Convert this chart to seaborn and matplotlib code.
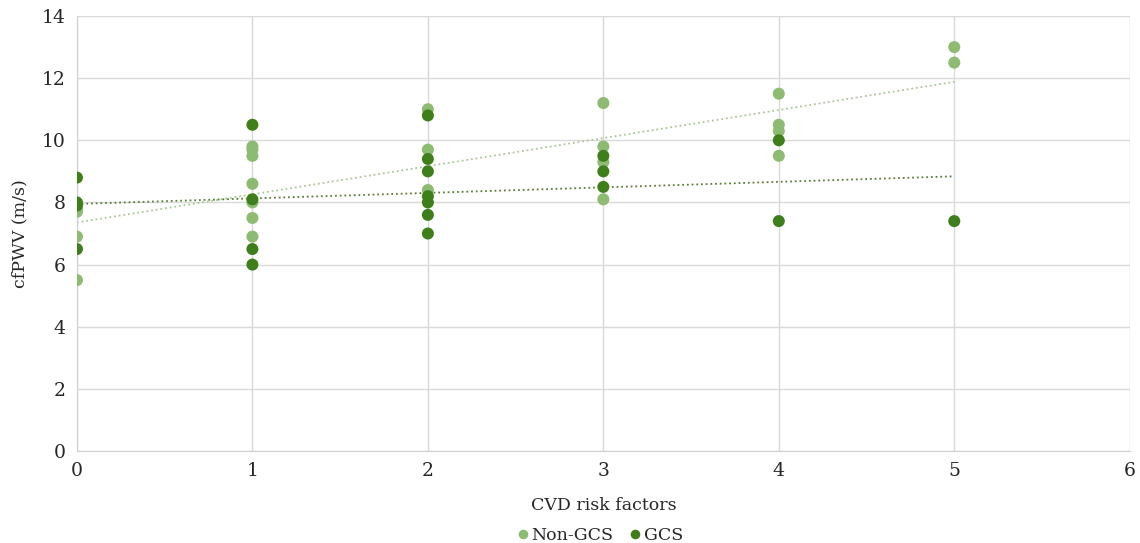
import matplotlib
matplotlib.use("Agg")
import matplotlib.pyplot as plt
import seaborn as sns
import pandas as pd

# values
non_gcs_x = [0, 0, 0, 0,
             1, 1, 1, 1, 1, 1, 1,
             2, 2, 2,
             3, 3, 3, 3,
             4, 4, 4, 4,
             5, 5]
non_gcs_y = [7.8, 7.7, 6.9, 5.5,
             9.8, 9.7, 9.5, 8.6, 8.0, 7.5, 6.9,
             11.0, 9.7, 8.4,
             11.2, 9.8, 9.3, 8.1,
             11.5, 10.5, 10.3, 9.5,
             13.0, 12.5]

gcs_x = [0, 0, 0, 0,
         1, 1, 1, 1,
         2, 2, 2, 2, 2, 2, 2,
         3, 3, 3,
         4, 4,
         5]
gcs_y = [8.8, 8.0, 7.9, 6.5,
         10.5, 8.1, 6.5, 6.0,
         10.8, 9.4, 9.0, 8.2, 8.0, 7.6, 7.0,
         9.5, 9.0, 8.5,
         10.0, 7.4,
         7.4]

groups = ["Non-GCS", "GCS"]
colors = {"Non-GCS": "#8dbb72", "GCS": "#3f7f1b"}
trend_colors = {"Non-GCS": "#a8c89a", "GCS": "#5a7f3a"}

df = pd.DataFrame({
    "risk": non_gcs_x + gcs_x,
    "cfpwv": non_gcs_y + gcs_y,
    "group": ["Non-GCS"] * len(non_gcs_x) + ["GCS"] * len(gcs_x),
})

sns.set_style("white")
plt.rcParams["font.family"] = ["DejaVu Serif"]

fig = plt.figure(figsize=(11.4, 5.43), dpi=100)
ax = fig.add_axes([0.0675, 0.1694, 0.9235, 0.8011])

sns.scatterplot(data=df, x="risk", y="cfpwv", hue="group", hue_order=groups,
                palette=colors, s=75, linewidth=0, ax=ax, zorder=3)

# linear trend lines, like excel's trendline
for g in groups:
    sub = df[df["group"] == g]
    sns.regplot(data=sub, x="risk", y="cfpwv", scatter=False, ci=None,
                truncate=True, ax=ax,
                line_kws={"color": trend_colors[g], "linewidth": 1.3,
                          "linestyle": (0, (1, 1.6)), "zorder": 2})

ax.set_xlim(0, 6)
ax.set_ylim(0, 14)
ax.set_xticks(range(0, 7))
ax.set_yticks(range(0, 15, 2))
ax.grid(True, color="#d9d9d9", linewidth=1)
ax.set_axisbelow(True)
for side in ["top", "right"]:
    ax.spines[side].set_visible(False)
for side in ["left", "bottom"]:
    ax.spines[side].set_color("#d0d0d0")
ax.tick_params(axis="both", length=0, labelsize=13.5, pad=8)

ax.set_xlabel("CVD risk factors", fontsize=12.5, labelpad=12)
ax.set_ylabel("cfPWV (m/s)", fontsize=12.5, labelpad=10)

handles, labels = ax.get_legend_handles_labels()
ax.get_legend().remove()
fig.legend(handles[:2], labels[:2], loc="center",
           bbox_to_anchor=(0.526, 0.014), ncol=2, frameon=False,
           fontsize=12.5, handlelength=0.7, handletextpad=0.15,
           columnspacing=0.9, borderpad=0.1, borderaxespad=0,
           markerscale=0.8)

fig.savefig("out.png", dpi=100)
